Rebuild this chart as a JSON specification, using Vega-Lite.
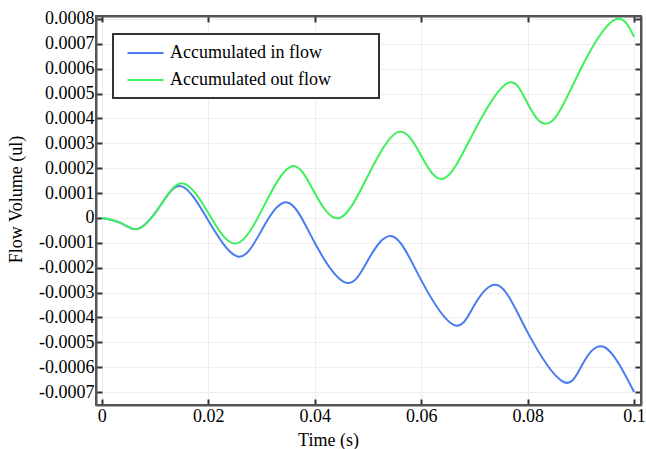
{
  "$schema": "https://vega.github.io/schema/vega-lite/v6.json",
  "width": 545,
  "height": 389,
  "autosize": {"type": "none"},
  "padding": {"left": 96, "top": 16, "right": 5, "bottom": 44},
  "background": "white",
  "config": {
    "font": "Liberation Serif",
    "view": {"stroke": "#555", "strokeWidth": 2},
    "axis": {
      "labelFont": "Liberation Serif",
      "labelFontSize": 18,
      "labelColor": "black",
      "titleFont": "Liberation Serif",
      "titleFontSize": 18,
      "titleFontWeight": "normal",
      "titleColor": "black",
      "domainColor": "#555",
      "domainWidth": 2,
      "tickColor": "#333",
      "tickWidth": 2,
      "gridColor": "#eeeeee",
      "gridWidth": 1
    },
    "legend": {
      "labelFont": "Liberation Serif",
      "labelFontSize": 18,
      "labelColor": "black"
    }
  },
  "data": {
    "values": [
      {"t": 0, "v": 0, "s": "Accumulated in flow"},
      {"t": 0.0035, "v": -0.00002, "s": "Accumulated in flow"},
      {"t": 0.007, "v": -0.000042, "s": "Accumulated in flow"},
      {"t": 0.011, "v": 0.00005, "s": "Accumulated in flow"},
      {"t": 0.015, "v": 0.000127, "s": "Accumulated in flow"},
      {"t": 0.02, "v": -0.00001, "s": "Accumulated in flow"},
      {"t": 0.0255, "v": -0.000155, "s": "Accumulated in flow"},
      {"t": 0.03, "v": -0.00005, "s": "Accumulated in flow"},
      {"t": 0.0349, "v": 0.0000625, "s": "Accumulated in flow"},
      {"t": 0.04, "v": -0.0001, "s": "Accumulated in flow"},
      {"t": 0.0458, "v": -0.00026, "s": "Accumulated in flow"},
      {"t": 0.05, "v": -0.00017, "s": "Accumulated in flow"},
      {"t": 0.0547, "v": -0.0000745, "s": "Accumulated in flow"},
      {"t": 0.06, "v": -0.00025, "s": "Accumulated in flow"},
      {"t": 0.0661, "v": -0.00043, "s": "Accumulated in flow"},
      {"t": 0.07, "v": -0.00035, "s": "Accumulated in flow"},
      {"t": 0.0746, "v": -0.000272, "s": "Accumulated in flow"},
      {"t": 0.08, "v": -0.00046, "s": "Accumulated in flow"},
      {"t": 0.0864, "v": -0.000655, "s": "Accumulated in flow"},
      {"t": 0.09, "v": -0.0006, "s": "Accumulated in flow"},
      {"t": 0.0943, "v": -0.000518, "s": "Accumulated in flow"},
      {"t": 0.1, "v": -0.0007, "s": "Accumulated in flow"},
      {"t": 0, "v": 0, "s": "Accumulated out flow"},
      {"t": 0.0035, "v": -0.00002, "s": "Accumulated out flow"},
      {"t": 0.007, "v": -0.000042, "s": "Accumulated out flow"},
      {"t": 0.011, "v": 0.00005, "s": "Accumulated out flow"},
      {"t": 0.0152, "v": 0.000139, "s": "Accumulated out flow"},
      {"t": 0.02, "v": 0.00002, "s": "Accumulated out flow"},
      {"t": 0.0252, "v": -0.000103, "s": "Accumulated out flow"},
      {"t": 0.0305, "v": 0.00005, "s": "Accumulated out flow"},
      {"t": 0.0357, "v": 0.000208, "s": "Accumulated out flow"},
      {"t": 0.04, "v": 0.0001, "s": "Accumulated out flow"},
      {"t": 0.0447, "v": 0.0, "s": "Accumulated out flow"},
      {"t": 0.05, "v": 0.00017, "s": "Accumulated out flow"},
      {"t": 0.0556, "v": 0.000345, "s": "Accumulated out flow"},
      {"t": 0.06, "v": 0.00025, "s": "Accumulated out flow"},
      {"t": 0.0644, "v": 0.00016, "s": "Accumulated out flow"},
      {"t": 0.07, "v": 0.00035, "s": "Accumulated out flow"},
      {"t": 0.0762, "v": 0.000542, "s": "Accumulated out flow"},
      {"t": 0.08, "v": 0.00046, "s": "Accumulated out flow"},
      {"t": 0.0843, "v": 0.000385, "s": "Accumulated out flow"},
      {"t": 0.09, "v": 0.0006, "s": "Accumulated out flow"},
      {"t": 0.0963, "v": 0.000796, "s": "Accumulated out flow"},
      {"t": 0.1, "v": 0.000728, "s": "Accumulated out flow"}
    ]
  },
  "layer": [
    {
      "mark": {"type": "line", "interpolate": "natural", "strokeWidth": 2, "clip": true},
      "encoding": {
        "x": {
          "field": "t", "type": "quantitative",
          "scale": {"domain": [-0.0011, 0.1013], "nice": false, "zero": false},
          "axis": {
            "values": [0, 0.02, 0.04, 0.06, 0.08, 0.1],
            "format": ".2~f",
            "tickSize": -6,
            "labelPadding": 8,
            "labelFont": "Liberation Serif",
            "title": "Time (s)",
            "titleX": 232,
            "titleY": 40,
            "titleBaseline": "alphabetic",
            "titleAnchor": "middle",
            "encode": {"labels": {"update": {"dy": {"value": 4}}}}
          }
        },
        "y": {
          "field": "v", "type": "quantitative",
          "scale": {"domain": [-0.000752, 0.000812], "nice": false, "zero": false},
          "axis": {
            "values": [-0.0007, -0.0006, -0.0005, -0.0004, -0.0003, -0.0002, -0.0001, 0, 0.0001, 0.0002, 0.0003, 0.0004, 0.0005, 0.0006, 0.0007, 0.0008],
            "labelExpr": "datum.value < -0.00000001 ? '-' + format(-datum.value, '.4~f') : format(abs(datum.value) < 0.00000001 ? 0 : datum.value, '.4~f')",
            "tickSize": -6,
            "labelPadding": 8,
            "labelFont": "Liberation Serif",
            "title": "Flow Volume (ul)",
            "titleX": -71,
            "titleY": 183,
            "titleAnchor": "middle",
            "encode": {"labels": {"update": {"dx": {"value": -7}}}}
          }
        },
        "color": {
          "field": "s", "type": "nominal",
          "scale": {"domain": ["Accumulated in flow", "Accumulated out flow"], "range": ["#4a7cf0", "#3fef5c"]},
          "legend": {
            "title": null,
            "orient": "none",
            "legendX": 17,
            "legendY": 18,
            "fillColor": "white",
            "strokeColor": "#333",
            "padding": 9,
            "rowPadding": 8,
            "symbolType": "M-0.5,0H3.5",
            "symbolSize": 324,
            "symbolStrokeWidth": 2,
            "labelOffset": 28,
            "labelLimit": 400,
            "labelFont": "Liberation Serif",
            "labelExpr": "datum.label + '\u2800\u2800\u2800'",
            "encode": {"legend": {"update": {"strokeWidth": {"value": 2}}}}
          }
        }
      }
    },
    {
      "mark": {"type": "line", "opacity": 0},
      "encoding": {
        "x": {
          "field": "t", "type": "quantitative",
          "axis": {"orient": "top", "values": [0, 0.02, 0.04, 0.06, 0.08, 0.1], "labels": false, "grid": false, "title": null, "tickSize": -6}
        },
        "y": {
          "field": "v", "type": "quantitative",
          "axis": {"orient": "right", "values": [-0.0007, -0.0006, -0.0005, -0.0004, -0.0003, -0.0002, -0.0001, 0, 0.0001, 0.0002, 0.0003, 0.0004, 0.0005, 0.0006, 0.0007, 0.0008], "labels": false, "grid": false, "title": null, "tickSize": -6}
        }
      }
    }
  ],
  "resolve": {"axis": {"x": "independent", "y": "independent"}}
}
